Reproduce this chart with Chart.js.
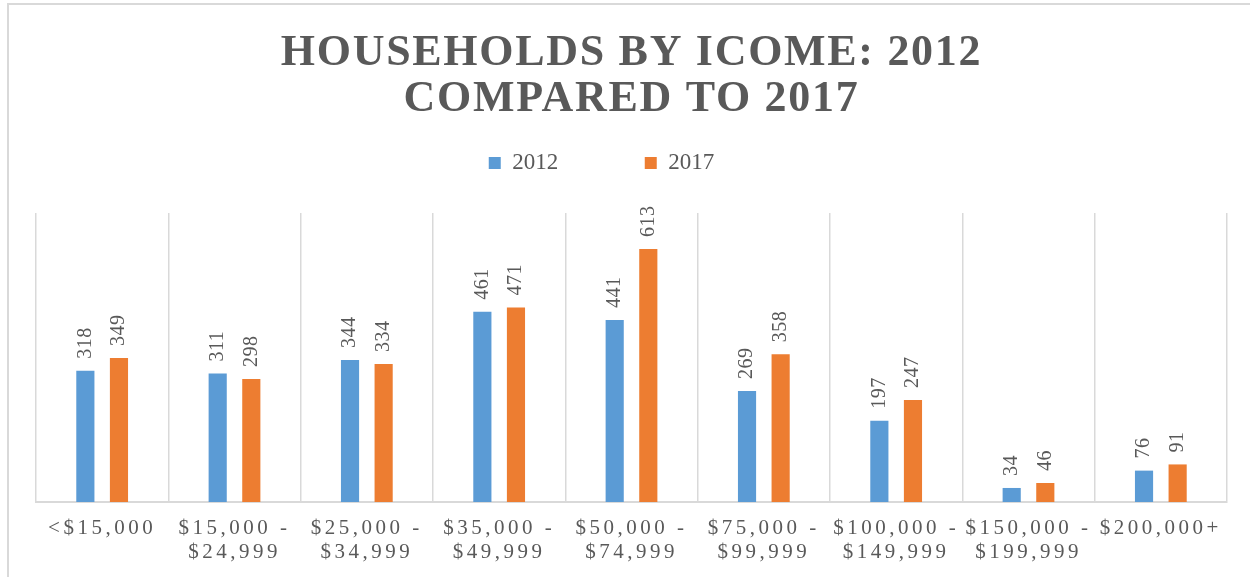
<!DOCTYPE html>
<html>
<head>
<meta charset="utf-8">
<script src="https://cdn.jsdelivr.net/npm/chart.js@4.4.0/dist/chart.umd.min.js"></script>
<style>
  html, body { margin: 0; padding: 0; background: #fff; }
  #wrap { position: relative; width: 1250px; height: 577px; overflow: hidden; }
  #frame { position: absolute; left: 7px; top: 3px; width: 1270px; height: 620px; border: 2px solid #d9d9d9; box-sizing: border-box; }
  canvas { position: absolute; left: 0; top: 0; }
</style>
</head>
<body>
<div id="wrap">
  <div id="frame"></div>
  <canvas id="income" width="1250" height="577"></canvas>
</div>
<script>
// income brackets (two lines each, like the original axis)
const incomeLabels = [
  ['<$15,000'],
  ['$15,000 -', '$24,999'],
  ['$25,000 -', '$34,999'],
  ['$35,000 -', '$49,999'],
  ['$50,000 -', '$74,999'],
  ['$75,000 -', '$99,999'],
  ['$100,000 -', '$149,999'],
  ['$150,000 -', '$199,999'],
  ['$200,000+']
];
const households2012 = [318, 311, 344, 461, 441, 269, 197, 34, 76];
const households2017 = [349, 298, 334, 471, 613, 358, 247, 46, 91];
const chartTitle = ['HOUSEHOLDS BY ICOME: 2012', 'COMPARED TO 2017'];

const SERIF = '"Liberation Serif", "Times New Roman", serif';
const GREY = '#595959';

// canvas letter spacing for a given draw function
function spaced(obj, fn, ctx, spacing) {
  if (!obj || obj['_sp_' + fn]) return;
  const orig = obj[fn];
  obj[fn] = function (...args) {
    ctx.save();
    ctx.letterSpacing = spacing;
    orig.apply(this, args);
    ctx.restore();
  };
  obj['_sp_' + fn] = true;
}

const spacing = {
  id: 'spacing',
  beforeDraw(chart) {
    spaced(chart.titleBlock, 'draw', chart.ctx, '1.7px');
    spaced(chart.scales.x, 'drawLabels', chart.ctx, '3.5px');
  }
};

// legend: extra room under it and nudged left
const legendTweak = {
  id: 'legendTweak',
  beforeLayout(chart) {
    const lg = chart.legend;
    if (lg && !lg._tweaked) {
      const fit = lg.fit;
      lg.fit = function () { fit.call(this); this.height += 28.5; };
      lg._tweaked = true;
    }
  },
  afterLayout(chart) {
    chart.legend.left -= 30;
    chart.legend.right -= 30;
  }
};

// rotated value labels above bars
const barValues = {
  id: 'barValues',
  afterDatasetsDraw(chart) {
    const ctx = chart.ctx;
    ctx.save();
    ctx.font = '20px ' + SERIF;
    ctx.fillStyle = GREY;
    ctx.letterSpacing = '0.5px';
    ctx.textAlign = 'left';
    ctx.textBaseline = 'middle';
    chart.data.datasets.forEach((ds, i) => {
      chart.getDatasetMeta(i).data.forEach((bar, j) => {
        ctx.save();
        ctx.translate(bar.x, bar.y - 12);
        ctx.rotate(-Math.PI / 2);
        ctx.fillText(ds.data[j], 0, 0);
        ctx.restore();
      });
    });
    ctx.restore();
  }
};

new Chart(document.getElementById('income'), {
  type: 'bar',
  data: {
    labels: incomeLabels,
    datasets: [{
      label: '2012',
      data: households2012,
      backgroundColor: '#5b9bd5',
      borderWidth: 0,
      barPercentage: 0.54,
      categoryPercentage: 0.508
    }, {
      label: '2017',
      data: households2017,
      backgroundColor: '#ed7d31',
      borderWidth: 0,
      barPercentage: 0.54,
      categoryPercentage: 0.508
    }]
  },
  options: {
    responsive: false,
    animation: false,
    layout: { padding: { left: 36, right: 23, top: 0, bottom: -1 } },
    plugins: {
      title: {
        display: true,
        text: chartTitle,
        color: GREY,
        font: { family: SERIF, size: 44, weight: 'bold', lineHeight: 46 / 44 },
        padding: { top: 31, bottom: -58 }
      },
      legend: {
        display: true,
        position: 'top',
        labels: {
          boxWidth: 12,
          boxHeight: 12,
          padding: 86.5,
          color: GREY,
          font: { family: SERIF, size: 23 }
        }
      },
      tooltip: { enabled: false }
    },
    scales: {
      x: {
        grid: { color: '#d9d9d9', lineWidth: 1.5, drawTicks: false, offset: true },
        border: { color: '#d9d9d9', width: 2 },
        ticks: {
          color: GREY,
          font: { family: SERIF, size: 21, lineHeight: 24 / 21 },
          padding: 14,
          maxRotation: 0,
          autoSkip: false
        }
      },
      y: { display: false, min: 0, max: 700 }
    }
  },
  plugins: [spacing, legendTweak, barValues]
});
</script>
</body>
</html>
